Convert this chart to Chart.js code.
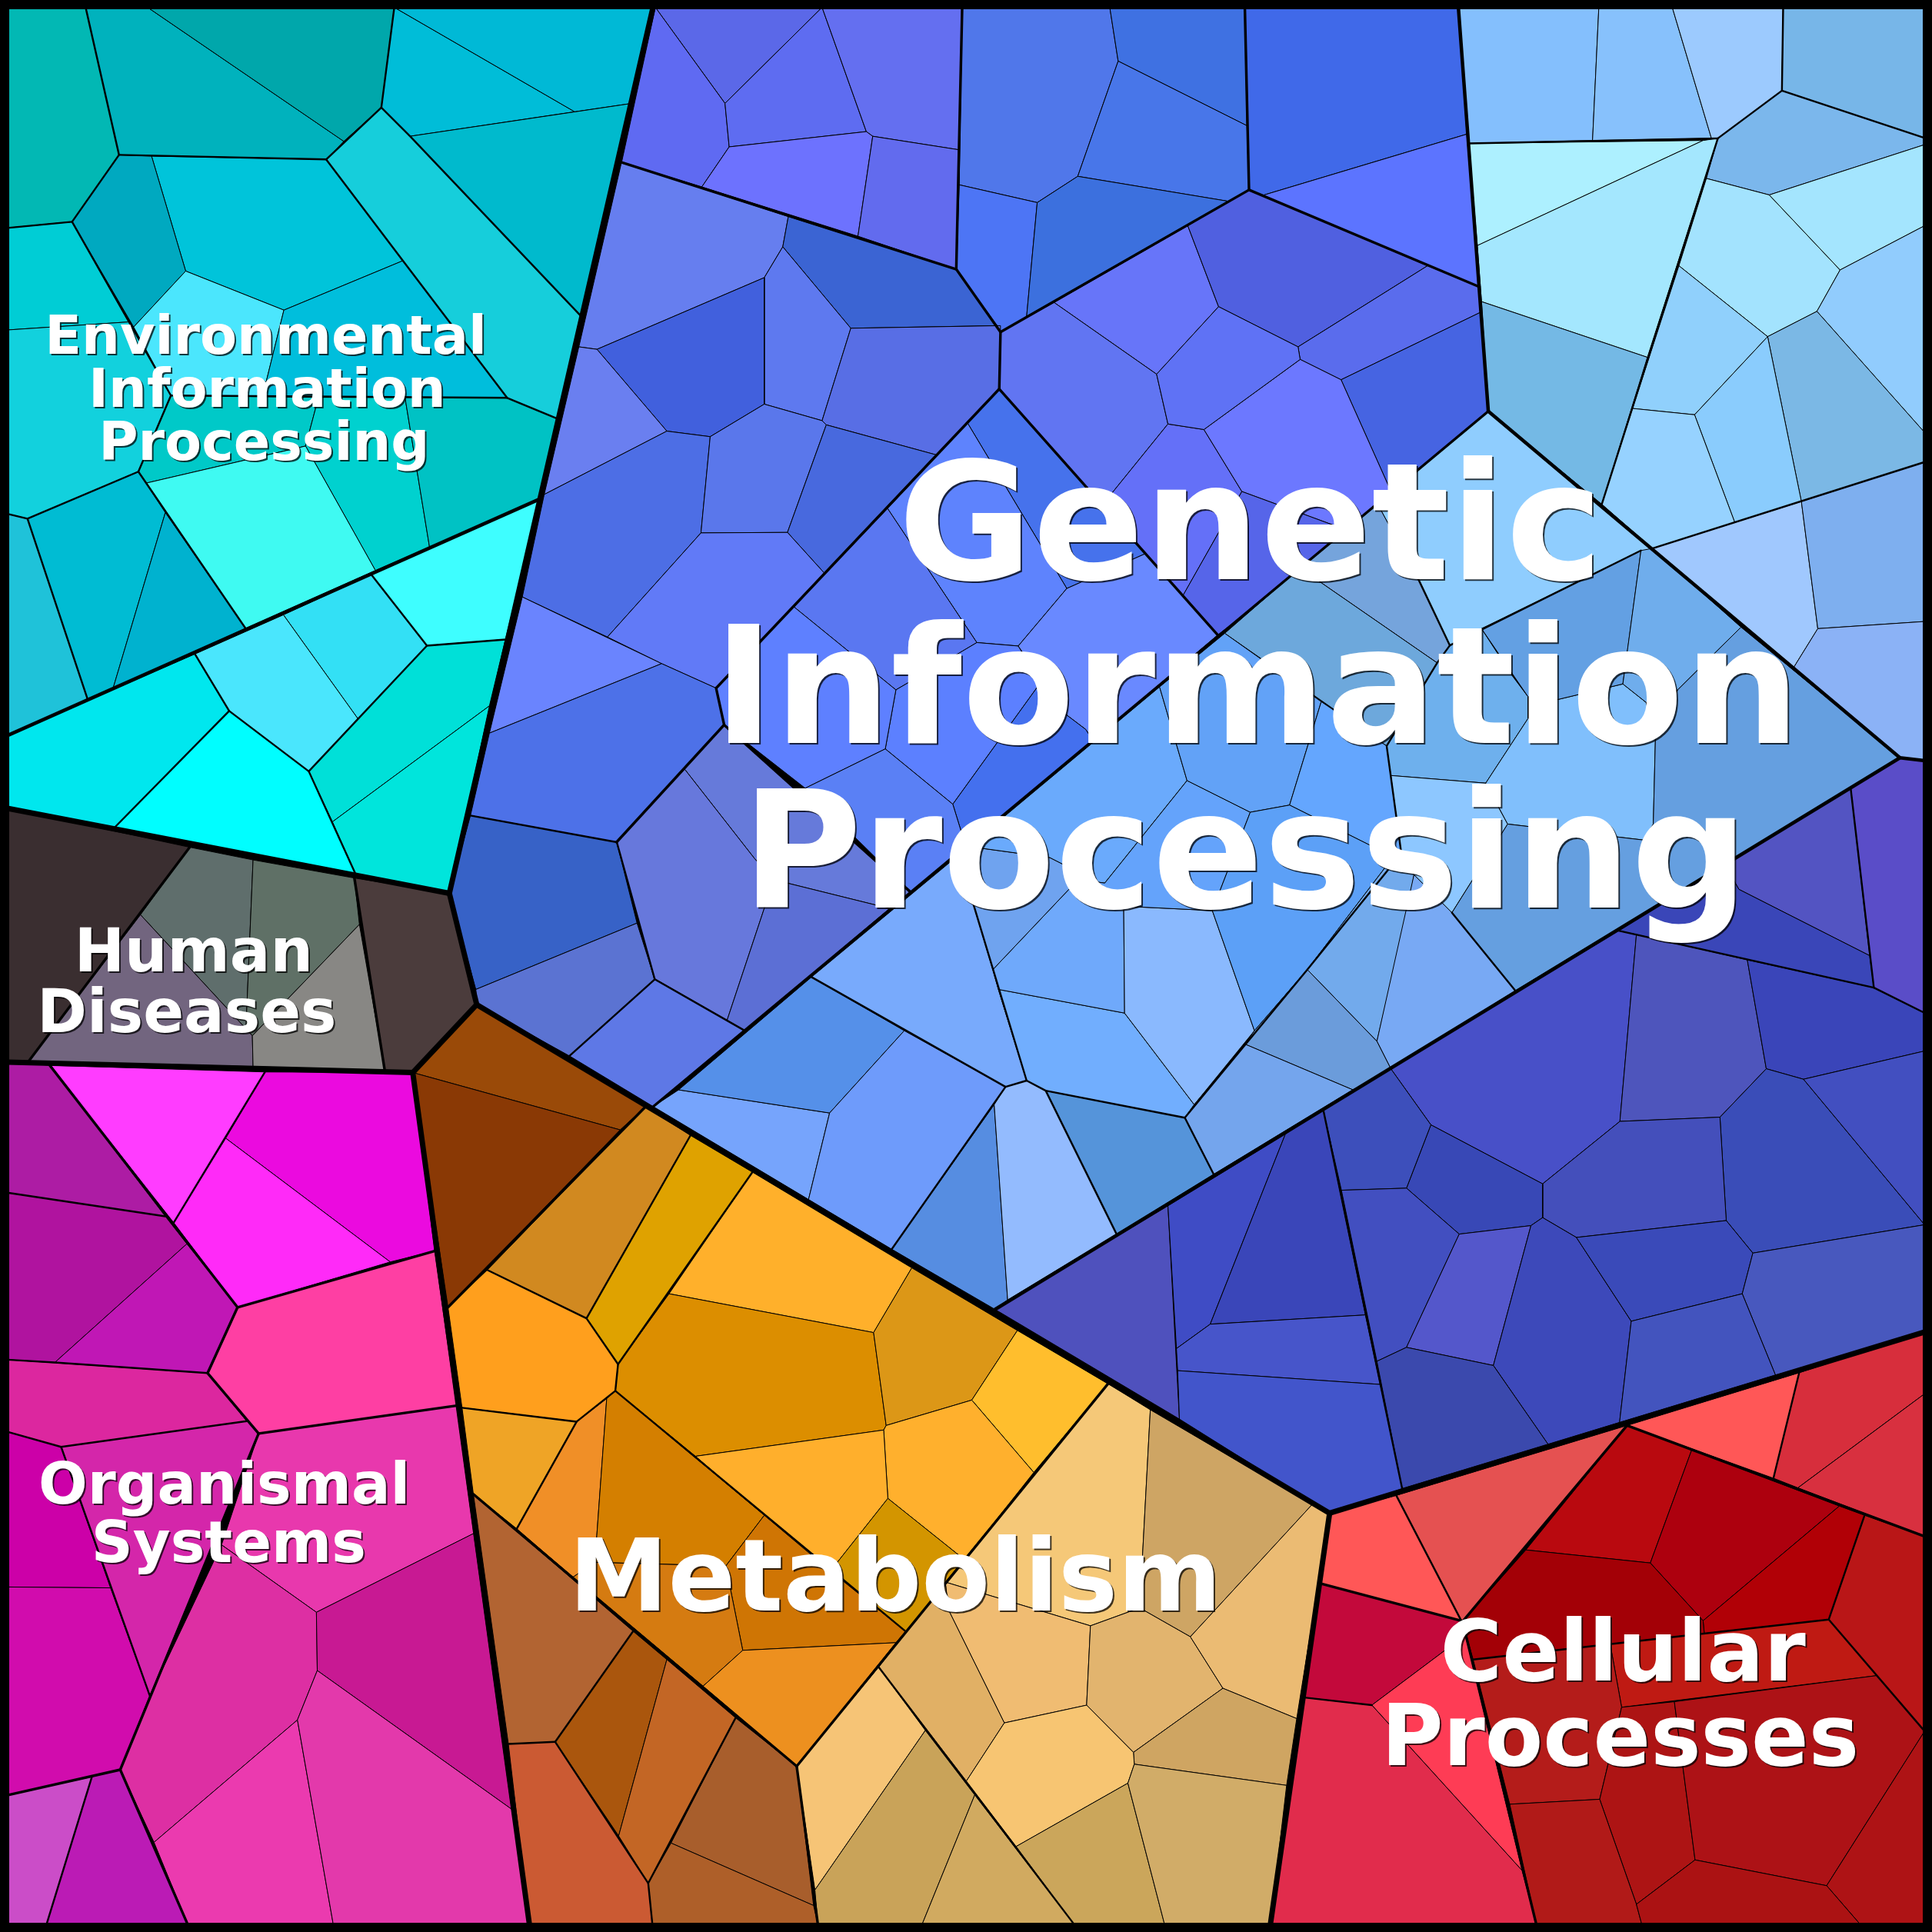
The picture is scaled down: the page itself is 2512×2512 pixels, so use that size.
<!DOCTYPE html>
<html>
<head>
<meta charset="utf-8">
<title>Voronoi treemap</title>
<script src="https://cdn.jsdelivr.net/npm/chart.js@4"></script>
<style>
  html, body { margin: 0; padding: 0; background: #000; }
  canvas { display: block; }
</style>
</head>
<body>
<canvas id="voronoi" width="2512" height="2512"></canvas>
<script>
// cell outlines, on a 0-1568 axis
const envCells = [
  [[6,6],[69.5,6],[96.6,125.7],[58.5,180],[6,185]],
  [[69.5,6],[119.8,6],[279,114.7],[264.7,129.4],[96.6,125.7]],
  [[119.8,6],[320,6],[309.5,87.3],[279,114.7]],
  [[320,6],[466.4,90.7],[332.8,110.6],[309.5,87.3]],
  [[320,6],[531,6],[510.9,84.2],[466.4,90.7]],
  [[332.8,110.6],[510.9,84.2],[471,256]],
  [[309.5,87.3],[332.8,110.6],[471,256],[452,339.7],[411.6,322.9],[327,211.6],[264.7,129.4]],
  [[123,126.7],[264.7,129.4],[327,211.6],[230.4,251.7],[150.7,220]],
  [[96.6,125.7],[123,126.7],[150.7,220],[108.5,265.4],[58.5,180]],
  [[150.7,220],[230.4,251.7],[213,322],[138.7,321],[108.5,265.4]],
  [[230.4,251.7],[327,211.6],[411.6,322.9],[213,322]],
  [[6,185],[58.5,180],[104.4,261.3],[6,267.8]],
  [[6,267.8],[104.4,261.3],[138.7,321],[112.3,382.8],[22.3,421],[6,417]],
  [[138.7,321],[258.5,322.5],[248,362],[119,392],[112.3,382.8]],
  [[258.5,322.5],[328.7,322.5],[348.6,444],[304.7,463],[248,362]],
  [[328.7,322.5],[411.6,322.9],[452,339.7],[438,405],[348.6,444]],
  [[119,392],[248,362],[304.7,463],[199.3,510]],
  [[22.3,421],[112.3,382.8],[134.2,416],[91.8,558.5],[71.2,567.8]],
  [[134.2,416],[199.3,510],[91.8,558.5]],
  [[6,417],[22.3,421],[71.2,567.8],[6,597]],
  [[301.3,466.3],[438,405],[410.2,519],[346.5,524]],
  [[230,499],[301.3,466.3],[346.5,524],[290.4,583.2]],
  [[158.2,530.8],[230,499],[290.4,583.2],[250.6,626],[186,577]],
  [[6,597],[158.2,530.8],[186,577],[93.1,671.5],[6,656]],
  [[186,577],[250.6,626],[269.8,667],[288.3,708.8],[93.1,671.5]],
  [[346.5,524],[410.2,519],[397.2,572.9],[269.8,667],[250.6,626]],
  [[397.2,572.9],[364.7,725],[288.3,708.8],[269.8,667]]
];
const envColors = ['#02b8b4','#00b2bd','#00a7ab','#00bdd8','#00b9d6','#00bacd','#16cedb','#00c4da','#00a9c0','#4be6fd','#00bedc','#00cdd5','#12d1dd','#00c9c8','#00d1cf','#00c2c4','#3ffaf2','#00bcd3','#00b2cf','#1fc2d9','#3efeff','#33e0f5','#4ae6fd','#00e7ee','#00feff','#00e0d8','#00e5dc'];

const humanCells = [
  [[6,656],[154,687.6],[23.3,861.2],[6,862]],
  [[154,687.6],[205.4,697.9],[199.6,835],[114,742.4]],
  [[205.4,697.9],[287.6,712.6],[291.7,750.3],[204.8,840.6],[199.6,835]],
  [[114,742.4],[204.8,840.6],[205.4,865.6],[23.3,861.2]],
  [[291.7,750.3],[312.3,869],[205.4,865.6],[204.8,840.6]],
  [[287.6,712.6],[364.7,725],[386.9,815.3],[335,870.5],[312.3,869]]
];
const humanColors = ['#3a2e30','#5f6e6c','#5f7066','#72657f','#888784','#4b3c3c'];

const organismCells = [
  [[6,862],[40.4,864.6],[134.2,987.2],[6,968]],
  [[40.4,864.6],[215,870],[141,992.3]],
  [[215,870],[335,870.5],[352.7,1015.3],[316.7,1024.2],[183.2,923.8]],
  [[183.2,923.8],[316.7,1024.2],[192.8,1061],[141,992.3]],
  [[6,968],[134.2,987.2],[151.7,1009.5],[44.5,1105.8],[6,1103.5]],
  [[151.7,1009.5],[192.8,1061],[168.5,1114.4],[44.5,1105.8]],
  [[192.8,1061],[352.7,1015.3],[370.5,1140.8],[209.9,1163.4],[168.5,1114.4]],
  [[6,1103.5],[168.5,1114.4],[200.3,1153.4],[49.6,1174.3],[6,1162]],
  [[49.6,1174.3],[200.3,1153.4],[209.9,1163.4],[121.6,1376.3],[89.7,1288.7]],
  [[6,1162],[49.6,1174.3],[89.7,1288.7],[6,1288]],
  [[6,1288],[89.7,1288.7],[121.6,1376.3],[97.6,1436.3],[6,1457]],
  [[6,1457],[74.6,1442],[37.7,1562],[6,1562]],
  [[74.6,1442],[97.6,1436.3],[152.4,1562],[37.7,1562]],
  [[209.9,1163.4],[370.5,1140.8],[384.5,1244.5],[256.8,1308.5],[179.8,1253.8]],
  [[179.8,1253.8],[256.8,1308.5],[257.5,1355.8],[241.4,1395.9],[125,1495.2],[97.6,1436.3],[121.6,1376.3]],
  [[256.8,1308.5],[384.5,1244.5],[415.3,1468.4],[257.5,1355.8]],
  [[125,1495.2],[241.4,1395.9],[270.5,1562],[152.4,1562]],
  [[241.4,1395.9],[257.5,1355.8],[415.3,1468.4],[429.7,1562],[270.5,1562]]
];
const organismColors = ['#ad1ca4','#ff3cff','#eb0adf','#ff2af8','#b0139f','#c017b5','#fe3fa3','#dc279f','#d426aa','#cc00a8','#d10cad','#cb4dc8','#bb1bb5','#e838ad','#dd2fa3','#c81993','#eb3aaf','#e339ab'];

const metabolismCells = [
  [[335,870.5],[386.9,815.3],[523.9,898.2],[503.3,917]],
  [[335,870.5],[503.3,917],[363.6,1061]],
  [[395.5,1030.7],[523.9,898.2],[560.4,921.5],[476,1070]],
  [[560.4,921.5],[610.7,951.3],[501.6,1107.2],[476,1070]],
  [[610.7,951.3],[740,1029],[709,1081.5],[543,1050]],
  [[543,1050],[709,1081.5],[719.2,1156.9],[717.2,1160.6],[564.5,1181.9],[499.4,1128.8],[501.6,1107.2]],
  [[740,1029],[825.7,1079.8],[788.7,1136.3],[719.2,1156.9],[709,1081.5]],
  [[825.7,1079.8],[899.3,1123],[839,1195],[788.7,1136.3]],
  [[719.2,1156.9],[788.7,1136.3],[839,1195],[783,1266],[720.6,1216.1],[717.2,1160.6]],
  [[564.5,1181.9],[717.2,1160.6],[720.6,1216.1],[674,1275],[620.3,1229.8]],
  [[720.6,1216.1],[783,1266],[735,1324],[674,1275]],
  [[363.6,1061],[395.5,1030.7],[476,1070],[501.6,1107.2],[499.4,1128.8],[468,1153.8],[375,1142.5]],
  [[375,1142.5],[468,1153.8],[419.4,1240.7],[384.2,1212.7]],
  [[419.4,1240.7],[468,1153.8],[492.4,1135],[482.8,1268],[465,1280]],
  [[492.4,1135],[499.4,1128.8],[620.3,1229.8],[589.1,1270.9],[482.8,1268]],
  [[620.3,1229.8],[674,1275],[735,1324],[727.1,1333.2],[602.8,1339.4],[589.1,1270.9]],
  [[482.8,1268],[589.1,1270.9],[602.8,1339.4],[570.6,1368.5],[465,1280]],
  [[602.8,1339.4],[727.1,1333.2],[646.6,1433.5],[570.6,1368.5]],
  [[384.2,1212.7],[513.8,1323.9],[450.6,1413.7],[412.6,1415.4]],
  [[513.8,1323.9],[541.2,1346.9],[502.1,1490],[450.6,1413.7]],
  [[541.2,1346.9],[597,1394.2],[526.1,1528.4],[502.1,1490]],
  [[597,1394.2],[646.6,1433.5],[660.3,1546.5],[544.6,1495.8]],
  [[544.6,1495.8],[660.3,1546.5],[663.8,1562],[529.5,1562],[526.1,1528.4]],
  [[412.6,1415.4],[450.6,1413.7],[526.1,1528.4],[529.5,1562],[429.7,1562]],
  [[899.3,1123],[933.6,1144.2],[925,1305],[885,1319.5],[767.2,1284]],
  [[933.6,1144.2],[1065,1221],[966.1,1328.4],[925,1305]],
  [[767.2,1284],[885,1319.5],[881.9,1383.9],[815.1,1398.3],[769.9,1306.8]],
  [[713.1,1353],[767.2,1284],[769.9,1306.8],[815.1,1398.3],[784.3,1445.5]],
  [[881.9,1383.9],[885,1319.5],[925,1305],[966.1,1328.4],[992.5,1370.2],[919.9,1422.2]],
  [[1065,1221],[1079.1,1228.1],[1052.4,1394.8],[992.5,1370.2],[966.1,1328.4]],
  [[992.5,1370.2],[1052.4,1394.8],[1044.2,1449],[920.6,1431.8],[919.9,1422.2]],
  [[815.1,1398.3],[881.9,1383.9],[919.9,1422.2],[920.6,1431.8],[915.4,1447.2],[824.7,1498.6],[784.3,1445.5]],
  [[646.6,1433.5],[713.1,1353],[751,1404.4],[661.4,1533.9]],
  [[751,1404.4],[791.1,1456.8],[748.3,1562],[663.8,1562],[661.4,1533.9]],
  [[791.1,1456.8],[871.9,1562],[748.3,1562]],
  [[824.7,1498.6],[915.4,1447.2],[945.2,1562],[871.9,1562]],
  [[915.4,1447.2],[920.6,1431.8],[1044.2,1449],[1031,1562],[945.2,1562]]
];
const metabolismColors = ['#9a4a08','#8a3905','#d18920','#dfa200','#ffb02b','#dc8e00','#dc9717','#ffbe2d','#ffb02d','#ffaf2c','#d39500','#ff9f1d','#efa426','#f08f27','#d47f00','#cf7504','#d57b11','#ed901f','#b26432','#aa560d','#c36625','#a85e2c','#ae5f29','#cb5a33','#f5c878','#cea564','#f0bc72','#e1b065','#e2b46e','#ebbb73','#cfa562','#f7c572','#f6c476','#c9a359','#d1aa60','#cba65b','#d1ac68'];

const cellularCells = [
  [[1079.1,1228.1],[1133.2,1213.7],[1186,1315.4],[1072.3,1285.3]],
  [[1133.2,1213.7],[1320.5,1156.9],[1187,1316],[1186,1315.4]],
  [[1320.5,1156.9],[1460.2,1114.1],[1439.3,1199.7]],
  [[1460.2,1114.1],[1562,1081],[1562,1131.2],[1459.2,1207.5],[1439.3,1199.7]],
  [[1459.2,1207.5],[1562,1131.2],[1562,1246.9]],
  [[1072.3,1285.3],[1186,1315.4],[1189.3,1327],[1113.4,1383.9],[1058.6,1377.7]],
  [[1189.3,1327],[1235.3,1518.1],[1113.4,1383.9]],
  [[1058.6,1377.7],[1113.4,1383.9],[1235.3,1518.1],[1246.9,1562],[1031,1562]],
  [[1320.5,1156.9],[1373,1176.7],[1339.4,1268.5],[1238.4,1257.9]],
  [[1373,1176.7],[1492.8,1222.3],[1382.2,1315.4],[1339.4,1268.5]],
  [[1492.8,1222.3],[1513.3,1229.8],[1484.2,1314.4],[1383.2,1325.7],[1382.2,1315.4]],
  [[1238.4,1257.9],[1339.4,1268.5],[1382.2,1315.4],[1383.2,1325.7],[1195.6,1346.9],[1187,1316]],
  [[1513.3,1229.8],[1562,1246.9],[1562,1405],[1484.2,1314.4]],
  [[1306.8,1334.2],[1484.2,1314.4],[1523.2,1359.9],[1316.1,1385.6]],
  [[1195.6,1346.9],[1306.8,1334.2],[1316.1,1385.6],[1298.3,1460.3],[1225.3,1464.3]],
  [[1316.1,1385.6],[1358.9,1381.1],[1375.7,1509.5],[1328.1,1545.5],[1298.3,1460.3]],
  [[1358.9,1381.1],[1523.2,1359.9],[1562,1405],[1482.5,1530.4],[1375.7,1509.5]],
  [[1482.5,1530.4],[1562,1405],[1562,1562],[1509.9,1562]],
  [[1225.3,1464.3],[1298.3,1460.3],[1328.1,1545.5],[1332.5,1562],[1246.9,1562]],
  [[1328.1,1545.5],[1375.7,1509.5],[1482.5,1530.4],[1509.9,1562],[1332.5,1562]]
];
const cellularColors = ['#ff5757','#e55151','#ff5757','#d72e3c','#d8303f','#c3093b','#fe3c55','#e12c4c','#b9090f','#ad000e','#b10006','#a30006','#b91617','#bf1a13','#b41c1a','#ad1414','#ad1216','#ae1315','#b11a18','#ab1213'];

const geneticUpperCells = [
  [[531.9,6],[667.2,6],[588.4,83.9]],
  [[531.9,6],[588.4,83.9],[591.8,119.2],[569.6,151.7],[504.5,131.8]],
  [[588.4,83.9],[667.2,6],[703.1,106.8],[591.8,119.2]],
  [[667.2,6],[780.9,6],[778.5,121.6],[708.3,110.6],[703.1,106.8]],
  [[591.8,119.2],[703.1,106.8],[708.3,110.6],[696.3,191.7],[569.6,151.7]],
  [[708.3,110.6],[778.5,121.6],[776.1,218.5],[696.3,191.7]],
  [[780.9,6],[900.7,6],[907.5,49.6],[874.7,143.1],[841.8,164.4],[778.5,150]],
  [[900.7,6],[1010.3,6],[1012,102],[907.5,49.6]],
  [[907.5,49.6],[1012,102],[1013.7,154.1],[996.6,163.3],[874.7,143.1]],
  [[778.5,150],[841.8,164.4],[833.2,256.8],[812,269.5],[776.1,218.5]],
  [[841.8,164.4],[874.7,143.1],[996.6,163.3],[833.2,256.8]],
  [[1010.3,6],[1183.6,6],[1190.4,108.9],[1025,158.5],[1013.7,154.1]],
  [[1025,158.5],[1190.4,108.9],[1200.7,232.8],[1013.7,154.1]],
  [[855.5,245.5],[964,183.2],[989,248.9],[938.7,303.7]],
  [[964,183.2],[1013.7,154.1],[1158.6,215.7],[1053.5,281.5],[989,248.9]],
  [[1158.6,215.7],[1200.7,232.8],[1201.7,253.4],[1088.4,308.2],[1055.2,291.7],[1053.5,281.5]],
  [[1088.4,308.2],[1201.7,253.4],[1207.9,333.8],[1129,399]],
  [[812,269.5],[855.5,245.5],[938.7,303.7],[947.9,344.1],[894.6,409.9],[811,315.7]],
  [[947.9,344.1],[977.1,348.6],[1007.9,398.9],[960,483.5],[894.6,409.9]],
  [[977.1,348.6],[1055.2,291.7],[1088.4,308.2],[1129,399],[1098,432],[1007.9,398.9]],
  [[938.7,303.7],[989,248.9],[1053.5,281.5],[1055.2,291.7],[977.1,348.6],[947.9,344.1]],
  [[1007.9,398.9],[1098,432],[988.3,515.3],[960,483.5]]
];
const geneticUpperColors = ['#5b68e8','#5f6af2','#5e6cf1','#646ff0','#6d72fe','#626bee','#5077ea','#3f71e2','#4876e9','#4d75f5','#3c70de','#4069e9','#5c74ff','#6775f9','#5060e0','#5a6ced','#4664e2','#6175f2','#6470f8','#6c78ff','#5f72f5','#5665e9'];

const geneticLeftCells = [
  [[504.4,131.8],[639.8,175.7],[635.3,200.3],[620.3,225.3],[484.5,283.5],[469.8,281.5]],
  [[639.8,175.7],[776.1,218.5],[809.3,264.3],[690.5,266.4],[635.3,200.3]],
  [[635.3,200.3],[690.5,266.4],[667.2,341.4],[620.3,328],[620.3,225.3]],
  [[690.5,266.4],[812,264.3],[811,315.7],[759.6,369.1],[670.6,344.8],[667.2,341.4]],
  [[484.5,283.5],[620.3,225.3],[620.3,328],[576.4,354.4],[541.2,349.9]],
  [[469.8,281.5],[484.5,283.5],[541.2,349.9],[441.7,401.3]],
  [[541.2,349.9],[576.4,354.4],[568.9,432.5],[493,517],[423.9,484.5],[441.7,401.3]],
  [[576.4,354.4],[620.3,328],[667.2,341.4],[670.6,344.8],[639.1,432.1],[568.9,432.5]],
  [[670.6,344.8],[759.6,369.1],[668.9,465],[639.1,432.1]],
  [[493,517],[568.9,432.5],[639.1,432.1],[668.9,465],[581.2,558.5],[537,538.6]],
  [[423.9,484.5],[537,538.6],[397.2,595]],
  [[397.2,595],[537,538.6],[581.2,558.5],[587.7,588.3],[555.6,624.2],[500.4,683.5],[381.8,661.9]],
  [[381.8,661.9],[500.6,683.5],[517,749.2],[386.2,803],[364.7,725]],
  [[386.2,803],[517,749.2],[531.4,794.8],[462.2,857],[386.9,815.3]],
  [[531.4,794.8],[604.5,836.5],[530.2,898.1],[462.2,857]],
  [[555.6,624.2],[587.7,588.3],[739,724],[722,737.3],[628,714],[612.4,696.8]],
  [[500.4,683.5],[555.6,624.2],[612.4,696.8],[628,714],[590.1,828],[530.9,794.1]],
  [[628,714],[722,737.3],[604.5,836.5],[590.1,828]]
];
const geneticLeftColors = ['#667eef','#3b64d3','#5e79ef','#586ee5','#4160dd','#6a7ff0','#4d6ee5','#5a77eb','#4869de','#617af7','#6a84fe','#4d71e8','#3762c7','#5b73d2','#5e78e6','#667ada','#6778dc','#5c6fd5'];

const geneticInnerCells = [
  [[785.3,343.4],[811,315.7],[929.7,449.3],[865.8,477.6]],
  [[720.3,412.6],[785.3,343.4],[865.8,477.6],[826.4,524.3],[792.8,521.5]],
  [[644.2,492.4],[720.3,412.6],[792.8,521.5],[778.5,530],[727.1,559.9]],
  [[727.1,559.9],[778.5,530],[792.8,521.5],[826.4,524.3],[844.5,554],[773.3,652.7],[718.5,607.8]],
  [[826.4,524.3],[865.8,477.6],[929.7,449.3],[988.3,515.3],[887,601],[881.2,592],[864,579]],
  [[844.5,554],[864,579],[881.2,592],[887,601],[784,687.5],[773.3,652.7]],
  [[581.2,558.5],[644.2,492.4],[727.1,559.9],[718.5,607.8],[653.5,639.7],[587.7,588.3]],
  [[653.5,639.7],[718.5,607.8],[773.3,652.7],[784,687.5],[739,724]]
];
const geneticInnerColors = ['#4672ec','#5e83fd','#5a77f1','#5c80ff','#6989ff','#4470ee','#5e80ff','#5a80f5'];

const geneticLightCells = [
  [[1183.6,6],[1297.6,6],[1292.5,114],[1192.1,116.4]],
  [[1297.6,6],[1357.2,6],[1389,112.3],[1292.5,114]],
  [[1357.2,6],[1447.2,6],[1446.2,73.6],[1394.2,112.3],[1389,112.3]],
  [[1447.2,6],[1562,6],[1562,112],[1446.2,73.6]],
  [[1394.2,112.3],[1446.2,73.6],[1562,112],[1562,117.4],[1435.9,158.2],[1384.9,144.8]],
  [[1192.1,116.4],[1382.2,114],[1199,199.3]],
  [[1382.2,114],[1394.2,112.3],[1337,290],[1202.4,244.8],[1199,199.3]],
  [[1202.4,244.8],[1337,290],[1300,409.2],[1207.9,333.8]],
  [[1384.9,144.8],[1435.9,158.2],[1493.4,219.1],[1474.6,252.7],[1434.6,273.2],[1362.6,215.7]],
  [[1435.9,158.2],[1562,117.4],[1562,183.2],[1493.4,219.1]],
  [[1362.6,215.7],[1434.6,273.2],[1375.3,336.6],[1325,331.5]],
  [[1493.4,219.1],[1562,183.2],[1562,351],[1474.6,252.7]],
  [[1434.6,273.2],[1474.6,252.7],[1562,351],[1562,375],[1462,407]],
  [[1375.3,336.6],[1434.6,273.2],[1462,407],[1407.9,423.9]],
  [[1325,331.5],[1375.3,336.6],[1407.9,423.9],[1341,445.1],[1300,409.2]],
  [[1341,445.1],[1462,407],[1475.3,510.2],[1455.7,541.8]],
  [[1462,407],[1562,375],[1562,504.4],[1475.3,510.2]],
  [[1475.3,510.2],[1562,504.4],[1562,618],[1542,615],[1455.7,541.8]]
];
const geneticLightColors = ['#84bffd','#87c1fc','#9ccafe','#77b6e8','#7bb7ec','#adf0ff','#a4e7fe','#74b9e5','#a3e3fe','#a4e5fe','#90d0fc','#91ccfd','#7bb8e5','#8accfd','#96d2ff','#a0c8fe','#7eafef','#8bb2f6'];

const geneticSkyCells = [
  [[1207.9,333.8],[1341,445.1],[1202.4,510.2],[1176.7,523.8],[1151,469.8],[1118,409]],
  [[1055,461],[1118,409],[1151,469.8],[1176.7,523.8],[1166.4,538]],
  [[994,514],[1055,461],[1166.4,538],[1125.4,605.4]],
  [[658.6,793],[778,694],[805.8,786.9],[810.3,803],[833.2,877],[816.1,882.1],[733.9,836.5]],
  [[530.2,898.1],[550.8,884.5],[673.3,903.3],[656.2,973.5]],
  [[550.8,884.5],[658.6,793],[733.9,836.5],[673.3,903.3]],
  [[673.3,903.3],[733.9,836.5],[816.1,882.1],[806.9,896.5],[723.7,1013.9],[656.2,973.5]],
  [[806.9,896.5],[817.8,1055],[807.6,1062.7],[723.7,1013.9]],
  [[816.1,882.1],[833.2,877],[848.7,885.2],[906.2,1001.6],[817.8,1055],[806.9,896.5]],
  [[848.7,885.2],[961.6,907.1],[985,953],[906.2,1001.6]],
  [[810.3,803],[912.7,822.2],[969.2,896.5],[961.6,907.1],[848.7,885.2],[833.2,877]],
  [[805.8,786.9],[867.5,721.8],[912,735.5],[912.7,822.2],[810.3,803]],
  [[912,735.5],[983.9,739],[1018.1,836.5],[969.2,896.5],[912.7,822.2]],
  [[778,694],[786,687],[852,696],[891.4,716],[867.5,721.8],[805.8,786.9]],
  [[786,687],[941.1,557.5],[963.4,633.5],[896.6,716.7],[891.4,716],[852,696]],
  [[891.4,716],[896.6,716.7],[963.4,633.5],[1014.7,659.2],[983.9,739],[912,735.5]],
  [[941.1,557.5],[994,514],[1072.3,569.5],[1046.6,653.4],[1014.7,659.2],[963.4,633.5]],
  [[1046.6,653.4],[1072.3,569.5],[1125.4,605.4],[1137.3,692.7],[1111.7,685.9]],
  [[1014.7,659.2],[1046.6,653.4],[1111.7,685.9],[1137.3,692.7],[1125,703],[1061,786.9],[1018.1,836.5],[983.9,739]],
  [[1125,703],[1137.3,692.7],[1147.6,709.9],[1142.5,738.9],[1117.5,845.1],[1061,786.9]],
  [[1147.6,709.9],[1178.4,740.7],[1229.8,804],[1128.8,867.4],[1117.5,845.1]],
  [[1010.6,847.5],[1018.1,836.5],[1061,786.9],[1117.5,845.1],[1128.8,867.4],[1098,884.5]],
  [[969.2,896.5],[1010.6,847.5],[1098,884.5],[985,953],[961.6,907.1]],
  [[1166.4,538],[1176.7,523.8],[1202.4,510.2],[1226.4,547.2],[1240.1,565.4],[1240.1,583.2],[1205.8,635.6],[1128.8,629.4],[1125.4,605.4]],
  [[1128.8,629.4],[1205.8,635.6],[1216.1,655],[1223.6,668.8],[1178.4,740.7],[1147.6,709.9],[1137.3,692.7]],
  [[1205.8,635.6],[1240.1,583.2],[1264,567.8],[1317.1,555.1],[1336,570.1],[1343.5,600.3],[1341.8,668.8],[1334.2,681.8],[1223.6,668.8]],
  [[1202.4,510.2],[1331.8,446.8],[1320.5,530.7],[1317.1,555.1],[1264,567.8],[1240.1,565.4]],
  [[1331.8,446.8],[1341,445.1],[1413,509],[1361.6,559.9],[1336,570.1],[1317.1,555.1]],
  [[1413,509],[1542,615],[1229.8,804],[1178.4,740.7],[1223.6,668.8],[1334.2,681.8],[1341.8,668.8],[1343.5,600.3],[1361.6,559.9]]
];
const geneticSkyColors = ['#8fcdfe','#75a4dc','#6da8dc','#78aafc','#76a4fc','#5590e9','#6e9bfb','#568de1','#93bbfe','#5594da','#71aefe','#6fa9fb','#8ab9fe','#6fa3ef','#6aaafc','#64a3fb','#62a2f7','#64a6fe','#5ca0f7','#72aaec','#78a9f4','#6b9cdb','#74a5ed','#6eb0ed','#8dc7ff','#80bffc','#63a0e3','#6fadec','#659fe0'];

const geneticDeepCells = [
  [[1542,615],[1562,617.4],[1562,822.1],[1520.8,801.6],[1502,639.7]],
  [[1400,702],[1502,639.7],[1517.4,775.6],[1411.3,721.8]],
  [[1313.7,755.4],[1400,702],[1411.3,721.8],[1517.4,775.6],[1520.8,801.6]],
  [[1128.8,867.4],[1313.7,755.4],[1328.1,758.5],[1314.7,910.1],[1252,960.8],[1161.3,912.9]],
  [[1328.1,758.5],[1418.1,779],[1433.5,867.4],[1395.9,906.7],[1314.7,910.1]],
  [[1418.1,779],[1520.8,801.6],[1562,822.1],[1562,853],[1463.7,875.9],[1433.5,867.4]],
  [[1433.5,867.4],[1463.7,875.9],[1562,994],[1422.6,1017],[1401,990.6],[1395.9,906.7]],
  [[1463.7,875.9],[1562,853],[1562,994]],
  [[1314.7,910.1],[1395.9,906.7],[1401,990.6],[1279.4,1004.3],[1252,988.2],[1252,960.8]],
  [[1161.3,912.9],[1252,960.8],[1252,988.2],[1242.5,994.7],[1184.3,1001.6],[1141.5,964.3]],
  [[1074,900.9],[1128.8,867.4],[1161.3,912.9],[1141.5,964.3],[1088.7,966]],
  [[1088.7,966],[1141.5,964.3],[1184.3,1001.6],[1141.5,1093.5],[1117.5,1104.8]],
  [[1184.3,1001.6],[1242.5,994.7],[1212,1108.2],[1141.5,1093.5]],
  [[1242.5,994.7],[1252,988.2],[1279.4,1004.3],[1323.9,1072.3],[1314.4,1154.5],[1256.5,1172.3],[1212,1108.2]],
  [[1279.4,1004.3],[1401,990.6],[1422.6,1017],[1414,1050],[1323.9,1072.3]],
  [[1422.6,1017],[1562,994],[1562,1081],[1441,1116.1],[1414,1050]],
  [[1323.9,1072.3],[1414,1050],[1441,1116.1],[1314.4,1154.5]],
  [[1117.5,1104.8],[1141.5,1093.5],[1212,1108.2],[1256.5,1172.3],[1138,1208.2]],
  [[807.6,1062.7],[947.9,978.6],[957.2,1151.7]],
  [[947.9,978.6],[1043.2,920.4],[982.2,1074.7],[954.8,1094.5]],
  [[1043.2,920.4],[1074,900.9],[1108.2,1067.2],[982.2,1074.7]],
  [[954.8,1094.5],[982.2,1074.7],[1108.2,1067.2],[1120.2,1123.6],[955.8,1112.4]],
  [[955.8,1112.4],[1120.2,1123.6],[1138,1208.2],[1079.1,1228.1],[957.2,1151.7]]
];
const geneticDeepColors = ['#5a4dc8','#5354c2','#3a46b8','#4850c8','#4e55bc','#3a45b9','#3a4db8','#424fc0','#444fbb','#3848b6','#3d4fbb','#424fc0','#5457cb','#3d49ba','#3a4ab9','#4858be','#4354be','#3b49ad','#4f51bd','#3f4cc5','#3a46b9','#4755ca','#4255cb'];

// borders between groups of cells
const subBorders = [
  [[69.5,6],[96.6,125.7],[58.5,180],[6,185]], [[96.6,125.7],[264.7,129.4],[309.5,87.3],[320,6]],
  [[264.7,129.4],[327,211.6],[411.6,322.9],[452,339.7]], [[309.5,87.3],[332.8,110.6],[471,256]],
  [[58.5,180],[138.7,321],[112.3,382.8],[22.3,421],[71.2,567.8]], [[22.3,421],[6,417]],
  [[112.3,382.8],[199.3,510]], [[138.7,321],[411.6,322.9]],
  [[158.2,530.8],[186,577],[250.6,626],[288.3,708.8]], [[186,577],[93.1,671.5]],
  [[301.3,466.3],[346.5,524],[250.6,626]], [[346.5,524],[410.2,519]],
  [[215,870],[141,992.3]], [[192.8,1061],[168.5,1114.4],[44.5,1105.8],[6,1103.5]],
  [[134.2,987.2],[6,968]], [[49.6,1174.3],[6,1162]], [[74.6,1442],[37.7,1562]],
  [[49.6,1174.3],[200.3,1153.4]], [[49.6,1174.3],[121.6,1376.3]],
  [[395.5,1030.7],[476,1070],[501.6,1107.2],[499.4,1128.8],[468,1153.8],[375,1142.5]],
  [[560.4,921.5],[476,1070]], [[610.7,951.3],[501.6,1107.2]], [[499.4,1128.8],[735,1324]],
  [[468,1153.8],[419.4,1240.7]], [[713.1,1353],[871.9,1562]],
  [[513.8,1323.9],[450.6,1413.7],[526.1,1528.4],[597,1394.2]], [[412.6,1415.4],[450.6,1413.7]], [[526.1,1528.4],[529.5,1562]],
  [[1133.2,1213.7],[1186,1315.4]], [[1460.2,1114.1],[1439.3,1199.7]],
  [[1195.6,1346.9],[1484.2,1314.4],[1513.3,1229.8]], [[1484.2,1314.4],[1562,1405]],
  [[1058.6,1377.7],[1113.4,1383.9]],
  [[1192.1,116.4],[1394.2,112.3],[1300,409.2]], [[1394.2,112.3],[1446.2,73.6],[1447.2,6]], [[1446.2,73.6],[1562,112]],
  [[1341,445.1],[1562,375]], [[1331.8,446.8],[1176.7,523.8],[1151,469.8]],
  [[658.6,793],[816.1,882.1],[833.2,877],[778,694]], [[816.1,882.1],[723.7,1013.9]],
  [[833.2,877],[848.7,885.2],[906.2,1001.6]], [[848.7,885.2],[961.6,907.1],[985,953]],
  [[961.6,907.1],[1061,786.9],[1137.3,692.7],[1125.4,605.4],[1166.4,538],[1176.7,523.8]], [[1178.4,740.7],[1229.8,804]],
  [[1313.7,755.4],[1520.8,801.6],[1562,822.1]], [[1502,639.7],[1520.8,801.6]], [[1074,900.9],[1138,1208.2]],
  [[381.8,661.9],[500.6,683.5],[531.4,794.8],[604.5,836.5]], [[462.2,857],[531.4,794.8]]
];
const midBorders = [
  [[154,687.6],[23.3,861.2]], [[287.6,712.6],[312.3,869]],
  [[40.4,864.6],[192.8,1061],[168.5,1114.4],[209.9,1163.4]],
  [[192.8,1061],[352.7,1015.3]], [[209.9,1163.4],[370.5,1140.8]],
  [[209.9,1163.4],[97.6,1436.3],[6,1457]], [[97.6,1436.3],[152.4,1562]],
  [[523.9,898.2],[363.6,1061]], [[384.2,1212.7],[646.6,1433.5]], [[899.3,1123],[646.6,1433.5]], [[646.6,1433.5],[663.8,1562]],
  [[1320.5,1156.9],[1187,1316],[1246.9,1562]], [[1320.5,1156.9],[1562,1246.9]], [[1072.3,1285.3],[1186,1315.4]],
  [[780.9,6],[776.1,218.5]], [[504.5,131.8],[776.1,218.5],[812,269.5],[1013.7,154.1],[1200.7,232.8]],
  [[1010.3,6],[1013.7,154.1]], [[812,269.5],[811,315.7]],
  [[1207.9,333.8],[530.2,898.1]], [[811,315.7],[988.3,515.3]],
  [[811,315.7],[581.2,558.5],[587.7,588.3],[500.4,683.5]], [[587.7,588.3],[739,724]]
];
const heavyBorders = [
  [[6,597],[438,405]],
  [[1183.6,6],[1207.9,333.8]],
  [[1207.9,333.8],[1542,615],[1562,617.4]],
  [[807.6,1062.7],[1542,615]]
];
const topBorders = [
  [[530,6],[364.7,725],[6,656]],
  [[364.7,725],[386.9,815.3],[335,870.5],[6,862]],
  [[335,870.5],[429.7,1562]],
  [[386.9,815.3],[1079.1,1228.1],[1562,1081]],
  [[1079.1,1228.1],[1031,1562]]
];
const frame = [[3.75,3.75],[1564.25,3.75],[1564.25,1564.25],[3.75,1564.25],[3.75,3.75]];

// one entry per printed line
const labelLines = ['Environmental','Information','Processing','Human','Diseases','Organismal','Systems','Metabolism','Cellular','Processes','Genetic','Information','Processing'];
const labelX = [215.7,216.8,214.3,157.2,151.6,182,185.6,726.5,1317.1,1314.9,1015,1020,1010.5];
const labelY = [287,330.4,373.2,788.6,837.6,1220.5,1267.5,1306.8,1364,1432.5,469.8,603,736.5];
const labelSize = [70,70,70,78,78,75,75,129.5,110,110,213,213,213];

const cellGroups = [
  [envCells, envColors], [humanCells, humanColors], [organismCells, organismColors],
  [metabolismCells, metabolismColors], [cellularCells, cellularColors], [geneticUpperCells, geneticUpperColors],
  [geneticLeftCells, geneticLeftColors], [geneticInnerCells, geneticInnerColors], [geneticLightCells, geneticLightColors],
  [geneticSkyCells, geneticSkyColors], [geneticDeepCells, geneticDeepColors]
];

const toPoints = pts => pts.map(p => ({ x: p[0], y: p[1] }));
const datasets = [];

// Chart.js paints the highest order first
function addLine(pts, width) {
  datasets.push({
    data: toPoints(pts),
    showLine: true,
    fill: false,
    pointRadius: 0,
    borderColor: '#000',
    borderWidth: width,
    borderJoinStyle: 'round',
    borderCapStyle: 'round',
    clip: false,
    order: -datasets.length
  });
}

cellGroups.forEach(([cells, colors]) => {
  cells.forEach((cell, i) => {
    datasets.push({
      data: toPoints(cell.concat([cell[0]])),
      showLine: true,
      fill: 'shape',
      backgroundColor: colors[i],
      borderColor: '#000',
      borderWidth: 1,
      pointRadius: 0,
      clip: false,
      order: -datasets.length
    });
  });
});
subBorders.forEach(l => addLine(l, 2.4));
midBorders.forEach(l => addLine(l, 3.4));
heavyBorders.forEach(l => addLine(l, 4.5));
topBorders.forEach(l => addLine(l, 7));
addLine(frame, 12);

const labelPlugin = {
  id: 'groupLabels',
  afterDraw(chart) {
    const ctx = chart.ctx;
    const xs = chart.scales.x, ys = chart.scales.y;
    ctx.save();
    ctx.textAlign = 'center';
    ctx.textBaseline = 'alphabetic';
    labelLines.forEach((text, i) => {
      ctx.font = 'bold ' + labelSize[i] + 'px "DejaVu Sans"';
      ctx.shadowColor = 'rgba(0,0,0,0.75)';
      ctx.shadowOffsetX = 2;
      ctx.shadowOffsetY = 2;
      ctx.shadowBlur = 0;
      ctx.fillStyle = '#fff';
      ctx.fillText(text, xs.getPixelForValue(labelX[i]), ys.getPixelForValue(labelY[i]));
    });
    ctx.restore();
  }
};

new Chart(document.getElementById('voronoi'), {
  type: 'scatter',
  data: { datasets },
  options: {
    responsive: false,
    animation: false,
    layout: { padding: 0 },
    plugins: { legend: { display: false }, tooltip: { enabled: false } },
    scales: {
      x: { type: 'linear', min: 0, max: 1568, display: false },
      y: { type: 'linear', min: 0, max: 1568, reverse: true, display: false }
    }
  },
  plugins: [labelPlugin]
});
</script>
</body>
</html>
